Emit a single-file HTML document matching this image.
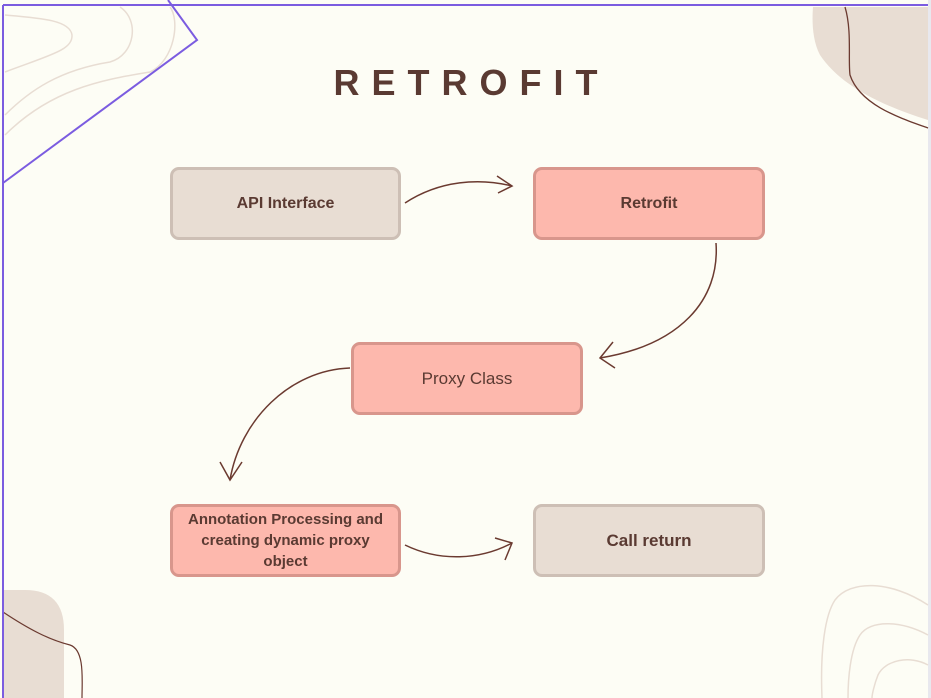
<!DOCTYPE html>
<html><head><style>
body{margin:0;width:931px;height:698px;overflow:hidden;background:#fdfdf5;font-family:"Liberation Sans",sans-serif;}
.b{position:absolute;box-sizing:border-box;border-radius:9px;display:flex;align-items:center;justify-content:center;text-align:center;color:#5a3a32;font-weight:bold;font-size:16px;}
.g{background:#e8ddd3;border:3px solid #cdbfb5;}
.p{background:#fdb8ad;border:3px solid #d8968c;}
</style></head><body>
<svg width="931" height="698" style="position:absolute;left:0;top:0">
<rect x="928" y="0" width="3" height="698" fill="#e8e8ee"/>
<path d="M813 7 L928 7 L928 120 C880 105 840 85 820 55 C812 40 812 20 813 7Z" fill="#e8ddd3"/>
<path d="M845 7 C852 30 848 60 850 75 C860 105 900 118 928 128" fill="none" stroke="#6b3a30" stroke-width="1.3"/>
<path d="M3 590 L25 590 Q64 590 64 630 L64 698 L3 698Z" fill="#e8ddd3"/>
<path d="M3 612 C30 630 50 640 70 645 C85 650 82 680 82 698" fill="none" stroke="#6b3a30" stroke-width="1.2"/>
<g fill="none" stroke="#e8ddd3" stroke-width="1.5">
<path d="M5 15 C40 18 70 20 72 35 C73 50 50 55 5 72"/>
<path d="M120 7 C140 20 135 55 110 62 C60 70 30 90 5 115"/>
<path d="M170 7 C180 20 175 60 150 72 C100 80 50 90 5 135"/>
<path d="M928 605 C890 580 850 580 835 600 C825 615 820 650 822 698"/>
<path d="M928 635 C900 620 870 620 860 635 C850 650 848 680 848 698"/>
<path d="M928 665 C910 655 885 660 878 675 C874 685 872 695 872 698"/>
</g>
<path d="M3 5 L928 5 M3 5 L3 698" stroke="#7b5ce0" stroke-width="2" fill="none"/>
<path d="M168 0 L197 40 L3 183" stroke="#7b5ce0" stroke-width="2" fill="none"/>
<g fill="none" stroke="#6b3a30" stroke-width="1.5">
<path d="M405 203 C440 180 480 178 512 186"/><path d="M497 176 L512 186 L498 193"/>
<path d="M716 243 C720 300 680 345 600 358"/><path d="M613 342 L600 358 L615 368"/>
<path d="M350 368 C290 370 240 420 230 480"/><path d="M220 462 L230 480 L242 462"/>
<path d="M405 545 C440 562 480 560 512 543"/><path d="M495 538 L512 543 L505 560"/>
</g>
</svg>
<div style="position:absolute;left:0;width:931px;top:62px;text-align:center;font-size:36px;font-weight:bold;letter-spacing:12px;color:#5a3a32;padding-left:12px;box-sizing:border-box">RETROFIT</div>
<div class="b g" style="left:170px;top:167px;width:231px;height:73px">API Interface</div>
<div class="b p" style="left:533px;top:167px;width:232px;height:73px">Retrofit</div>
<div class="b p" style="left:351px;top:342px;width:232px;height:73px;font-weight:normal;font-size:17px">Proxy Class</div>
<div class="b p" style="left:170px;top:504px;width:231px;height:73px;font-size:15px;line-height:21px;padding:0 6px">Annotation Processing and creating dynamic proxy object</div>
<div class="b g" style="left:533px;top:504px;width:232px;height:73px;font-size:17px">Call return</div>
</body></html>
